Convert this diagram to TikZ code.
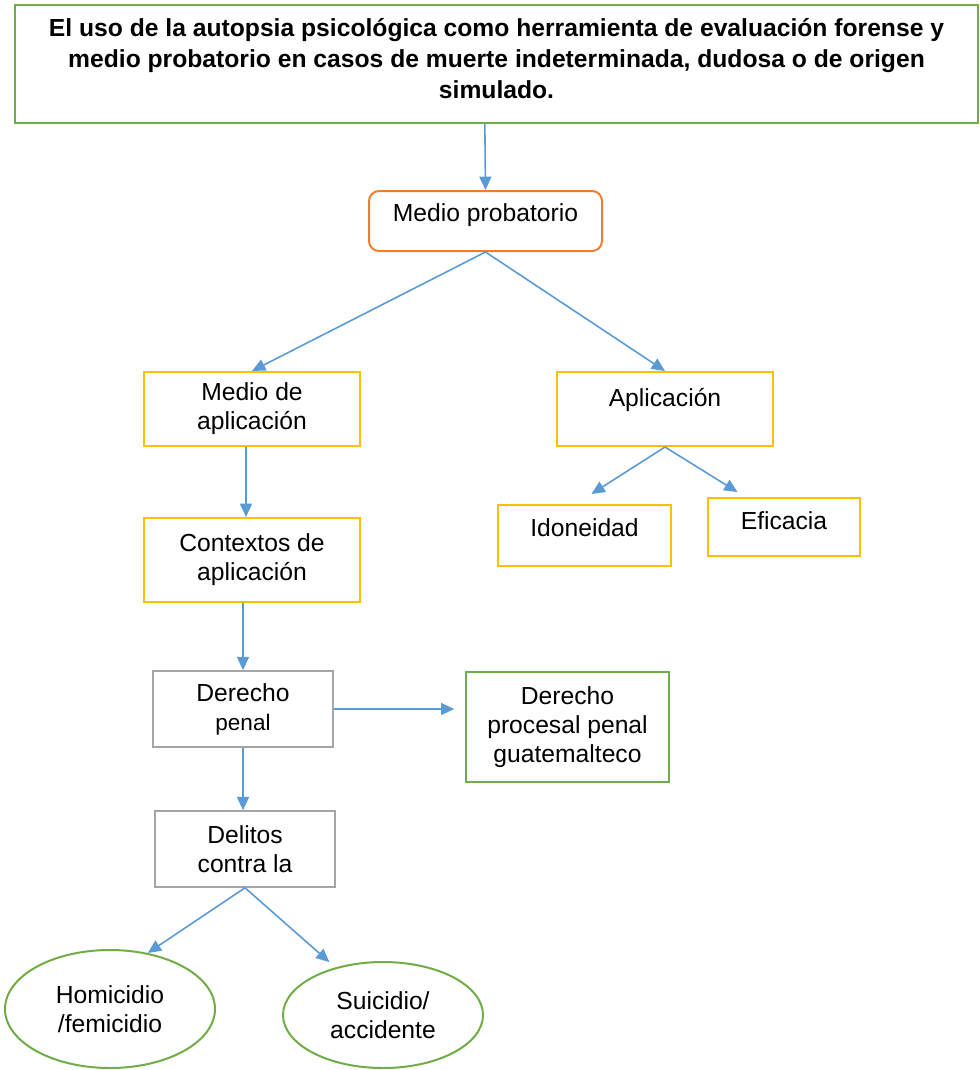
\documentclass[tikz,border=0pt]{standalone}
\usepackage{fontspec}
\setmainfont{Liberation Sans}
\usetikzlibrary{arrows.meta,calc,shapes.geometric}
\definecolor{cgreen}{HTML}{70AD47}
\definecolor{corange}{HTML}{ED7D31}
\definecolor{cgold}{HTML}{FFC000}
\definecolor{cgray}{HTML}{A5A5A5}
\definecolor{cblue}{HTML}{5B9BD5}
\newcommand\liftt[2]{\raisebox{#1}[\height][\depth]{#2}}
\tikzset{
  every node/.style={font=\fontsize{18.5}{21.75}\selectfont, text=black, align=center, inner sep=0pt},
  box/.style={draw, rectangle, line width=1.5pt},
  titlebox/.style={box, draw=cgreen, font=\bfseries\fontsize{18.5}{23}\selectfont},
  orangebox/.style={box, draw=corange, rounded corners=7.5pt},
  goldbox/.style={box, draw=cgold},
  graybox/.style={box, draw=cgray, line width=1.2pt},
  greenbox/.style={box, draw=cgreen},
  greenell/.style={draw=cgreen, ellipse, line width=1.5pt},
  conn/.style={draw=cblue, line width=1.2pt, -{Triangle[length=10pt,width=9pt]}}
}
\begin{document}
\begin{tikzpicture}[x=0.75pt,y=-0.75pt]
\useasboundingbox (0,0) rectangle (980,1070);
\node[titlebox, minimum width=722.25pt, minimum height=88.5pt] (title) at (496.5,64)
  {\liftt{2pt}{\begin{tabular}{@{}c@{}}El uso de la autopsia psicológica como herramienta de evaluación forense y\\
   medio probatorio en casos de muerte indeterminada, dudosa o de origen\\ simulado.\end{tabular}}};
\node[orangebox, minimum width=174.75pt, minimum height=45pt] (mp) at (485.5,221) {\liftt{4.5pt}{Medio probatorio}};
\node[goldbox, minimum width=162pt, minimum height=55.5pt] (mda) at (252,409) {Medio de\\aplicación};
\node[goldbox, minimum width=162pt, minimum height=55.5pt] (apl) at (665,409) {\liftt{7pt}{Aplicación}};
\node[goldbox, minimum width=129.75pt, minimum height=45.75pt] (ido) at (584.5,535.5) {\liftt{6pt}{Idoneidad}};
\node[goldbox, minimum width=114pt, minimum height=43.5pt] (efi) at (784,527) {\liftt{5pt}{Eficacia}};
\node[goldbox, minimum width=162pt, minimum height=63pt] (ctx) at (252,560) {Contextos de\\aplicación};
\node[graybox, minimum width=135pt, minimum height=57pt] (dp) at (243,709) {Derecho\\{\fontsize{16.9}{20}\selectfont penal}};
\node[greenbox, minimum width=152.25pt, minimum height=82.5pt] (dpp) at (567.5,727) {Derecho\\procesal penal\\guatemalteco};
\node[graybox, minimum width=135pt, minimum height=57pt] (del) at (245,849) {Delitos\\contra la};
\node[greenell, minimum width=157.5pt, minimum height=88.5pt] (hom) at (110,1009) {Homicidio\\/femicidio};
\node[greenell, minimum width=150pt, minimum height=79.5pt] (sui) at (383,1015) {Suicidio/\\accidente};

\draw[conn] ([xshift=-0.5pt]title.south -| mp.north) -- (mp.north);
\draw[conn] (mp.south) -- (mda.north);
\draw[conn] (mp.south) -- (apl.north);
\draw[conn] ([xshift=-4.5pt]mda.south) -- ([xshift=-4.5pt]ctx.north);
\draw[conn] (ctx.south -| dp.north) -- (dp.north);
\draw[conn, shorten >=8pt] (dp.east) -- (dpp.west |- dp.east);
\draw[conn] (dp.south) -- (dp.south |- del.north);
\draw[conn, shorten >=14pt] (apl.south) -- ($(ido.north west)!0.45!(ido.north east)$);
\draw[conn, shorten >=7pt] (apl.south) -- ($(efi.north west)!0.25!(efi.north east)$);
\draw[conn] (del.south) -- (hom.56);
\draw[conn, shorten >=6pt] (del.south) -- (sui.135);
\end{tikzpicture}
\end{document}
